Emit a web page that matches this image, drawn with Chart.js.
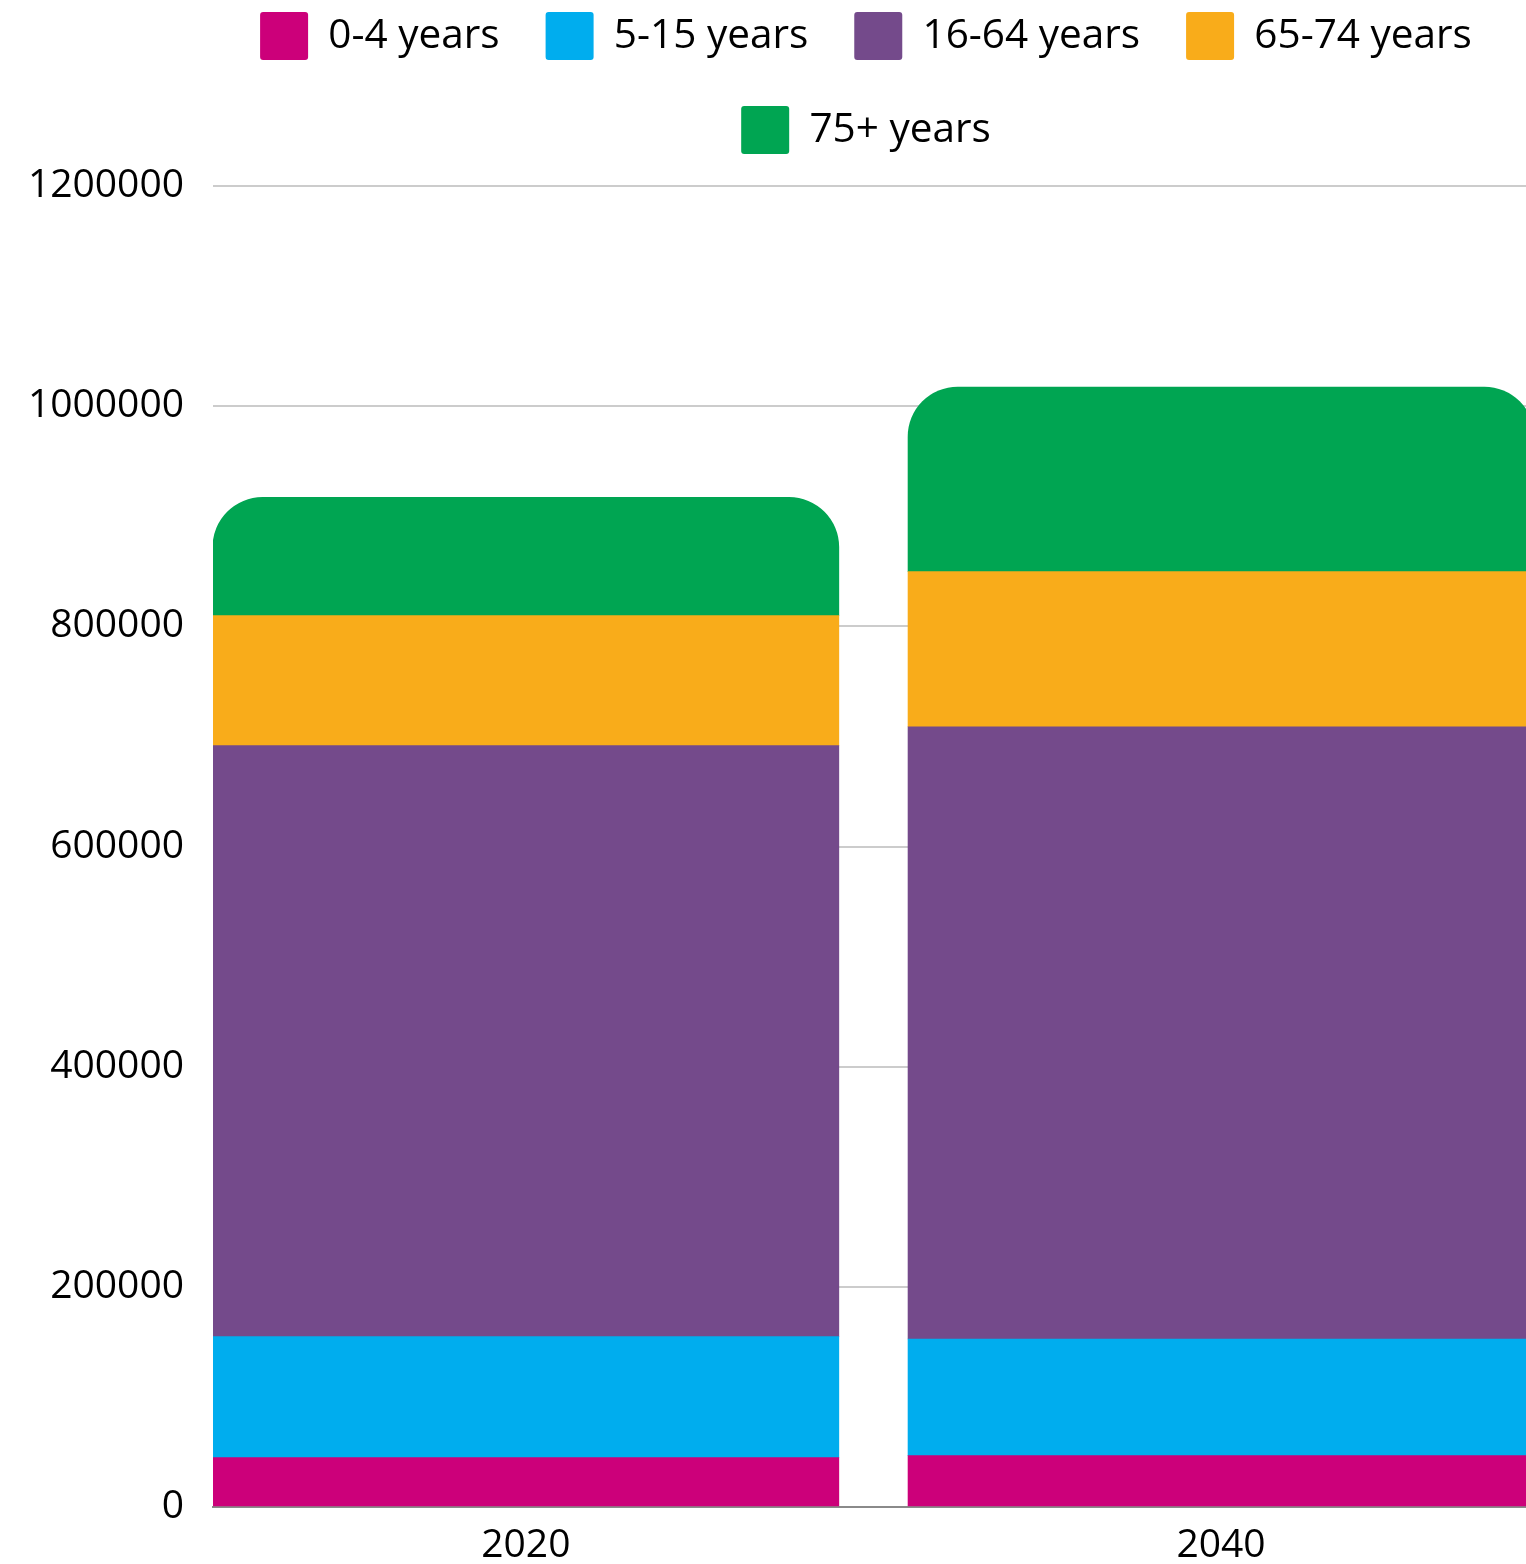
<!DOCTYPE html>
<html lang="en">
<head>
    <meta charset="UTF-8">
    <title>Population by age group</title>
    <script src="https://cdn.jsdelivr.net/npm/chart.js"></script>
    <style>
        html, body { margin: 0; padding: 0; background: #fff; overflow: hidden; }
        canvas { display: block; }
    </style>
</head>
<body>

<canvas id="ageChart" width="1732" height="1564"></canvas>

<script>
    // data
    const years = [2020, 2040];
    const ages0to4 = [44800, 46600];
    const ages5to15 = [109900, 106000];
    const ages16to64 = [536900, 556200];
    const ages65to74 = [118100, 140900];
    const ages75plus = [107400, 167700];
    const yTicks = [0, 200000, 400000, 600000, 800000, 1000000, 1200000];

    const series = [
        {label: '0-4 years', values: ages0to4, color: '#cc007a'},
        {label: '5-15 years', values: ages5to15, color: '#00adee'},
        {label: '16-64 years', values: ages16to64, color: '#744a8b'},
        {label: '65-74 years', values: ages65to74, color: '#f9ac1a'},
        {label: '75+ years', values: ages75plus, color: '#00a552'}
    ];

    const FONT = "'Open Sans', 'Noto Sans', sans-serif";

    // wrap the legend after four items and make its box tall enough
    // so the plot starts at the right height
    const legendFit = {
        id: 'legendFit',
        beforeInit(chart) {
            const fit = chart.legend.fit;
            chart.legend.fit = function () {
                const full = this.maxWidth;
                this.maxWidth = 1400;
                fit.bind(chart.legend)();
                this.maxWidth = full;
                this.width = full;
                this.height = 220;
            };
        }
    };

    const datasets = series.map((s, i) => ({
        label: s.label,
        data: years.map((yr, j) => ({x: yr, y: s.values[j]})),
        backgroundColor: s.color,
        borderWidth: 0,
        barThickness: 626,
        borderRadius: i === series.length - 1
            ? {topLeft: 50, topRight: 50, bottomLeft: 0, bottomRight: 0}
            : 0
    }));

    new Chart(document.getElementById('ageChart'), {
        type: 'bar',
        data: {datasets: datasets},
        plugins: [legendFit],
        options: {
            responsive: false,
            animation: false,
            devicePixelRatio: 1,
            layout: {padding: {top: -34, left: 0, right: 0, bottom: 0}},
            plugins: {
                tooltip: {enabled: false},
                legend: {
                    position: 'top',
                    labels: {
                        boxWidth: 48,
                        boxHeight: 48,
                        padding: 46,
                        color: '#000',
                        useBorderRadius: true,
                        borderRadius: 3,
                        font: {family: FONT, size: 40.5}
                    }
                }
            },
            scales: {
                x: {
                    type: 'linear',
                    stacked: true,
                    offset: false,
                    min: 2011,
                    max: 2054.7,
                    grid: {display: false},
                    border: {display: true, color: '#8a8a8a', width: 2},
                    afterBuildTicks(axis) {
                        axis.ticks = years.map(v => ({value: v}));
                    },
                    afterFit(axis) { axis.height = 57; },
                    ticks: {
                        color: '#000',
                        padding: 7,
                        font: {family: FONT, size: 39},
                        callback: v => String(v)
                    }
                },
                y: {
                    stacked: true,
                    min: 0,
                    max: 1200000,
                    grid: {color: '#cccccc', lineWidth: 2, drawTicks: false},
                    border: {display: false},
                    afterBuildTicks(axis) {
                        axis.ticks = yTicks.map(v => ({value: v}));
                    },
                    afterFit(axis) { axis.width = 213; },
                    ticks: {
                        color: '#000',
                        padding: 29,
                        font: {family: FONT, size: 39},
                        callback: v => String(v)
                    }
                }
            }
        }
    });
</script>

</body>
</html>
